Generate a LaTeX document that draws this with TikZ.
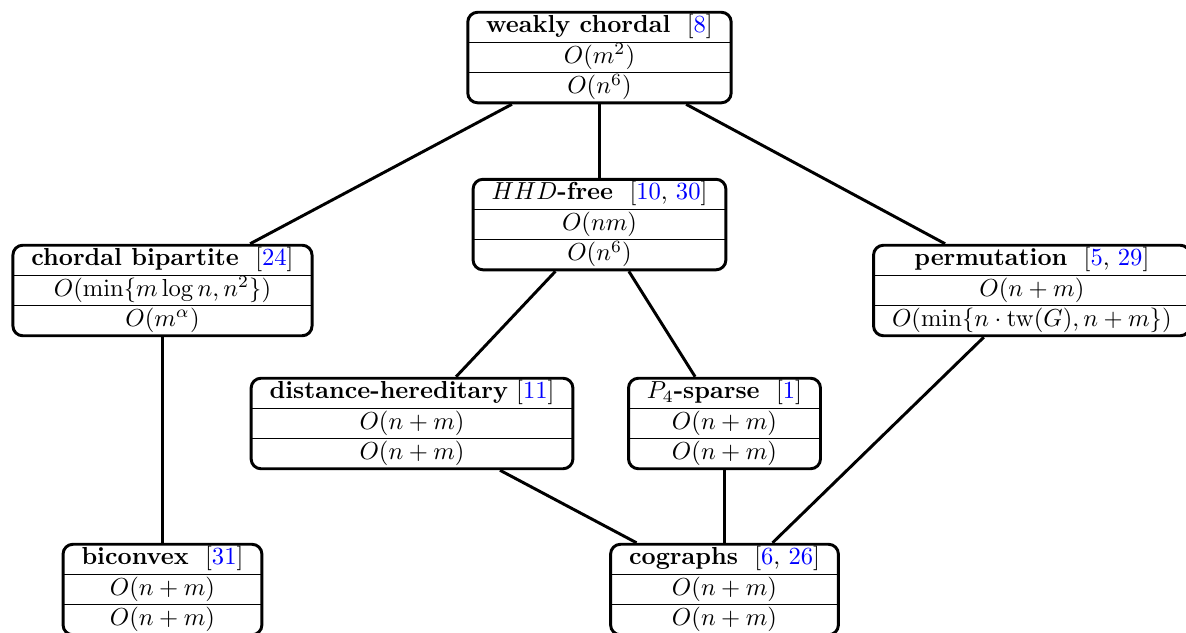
\documentclass[tikz,border=0pt]{standalone}
\usepackage{xcolor}
\newcommand{\rf}[1]{\textcolor{blue}{#1}}
\newcommand{\gclass}[3]{\begin{tabular}{c}#1\\\hline #2\\\hline #3\end{tabular}\ }
\setlength{\tabcolsep}{7.5pt}
\begin{document}
\begin{tikzpicture}
  \useasboundingbox (0,0) rectangle (16.943,9.029);
  \begin{scope}[every node/.style={draw=black, very thick, rounded corners, inner sep=0pt}]
    \node (wc) at (8.564,8.207) {\gclass{\textbf{weakly chordal}~~[\rf{8}]}{$O(m^2)$}{$O(n^6)$}};
    \node (hhd) at (8.564,5.821) {\gclass{$HHD$\textbf{-free}~~[\rf{10}, \rf{30}]}{$O(nm)$}{$O(n^6)$}};
    \node (cb) at (2.321,4.879) {\gclass{\textbf{chordal bipartite}~~[\rf{24}]}{$O(\min\{m\log n, n^2\})$}{$O(m^\alpha)$}};
    \node (perm) at (14.74,4.879) {\gclass{\textbf{permutation}~~[\rf{5}, \rf{29}]}{$O(n+m)$}{$O(\min\{n\cdot \mathrm{tw}(G), n+m\})$}};
    \node (dh) at (5.886,2.979) {\gclass{\textbf{distance-hereditary} [\rf{11}]}{$O(n+m)$}{$O(n+m)$}};
    \node (p4) at (10.35,2.979) {\gclass{$P_4$\textbf{-sparse}~~[\rf{1}]}{$O(n+m)$}{$O(n+m)$}};
    \node (bic) at (2.321,0.607) {\gclass{\textbf{biconvex}~~[\rf{31}]}{$O(n+m)$}{$O(n+m)$}};
    \node (cog) at (10.35,0.607) {\gclass{\textbf{cographs}~~[\rf{6}, \rf{26}]}{$O(n+m)$}{$O(n+m)$}};
  \end{scope}
  \begin{scope}[every edge/.style={draw=black, very thick}]
    \path (wc) edge (hhd);
    \path (wc) edge (cb);
    \path (wc) edge (perm);
    \path (hhd) edge (dh);
    \path (hhd) edge (p4);
    \path (cb) edge (bic);
    \path (dh) edge (cog);
    \path (p4) edge (cog);
    \path (perm) edge (cog);
  \end{scope}
\end{tikzpicture}
\end{document}
